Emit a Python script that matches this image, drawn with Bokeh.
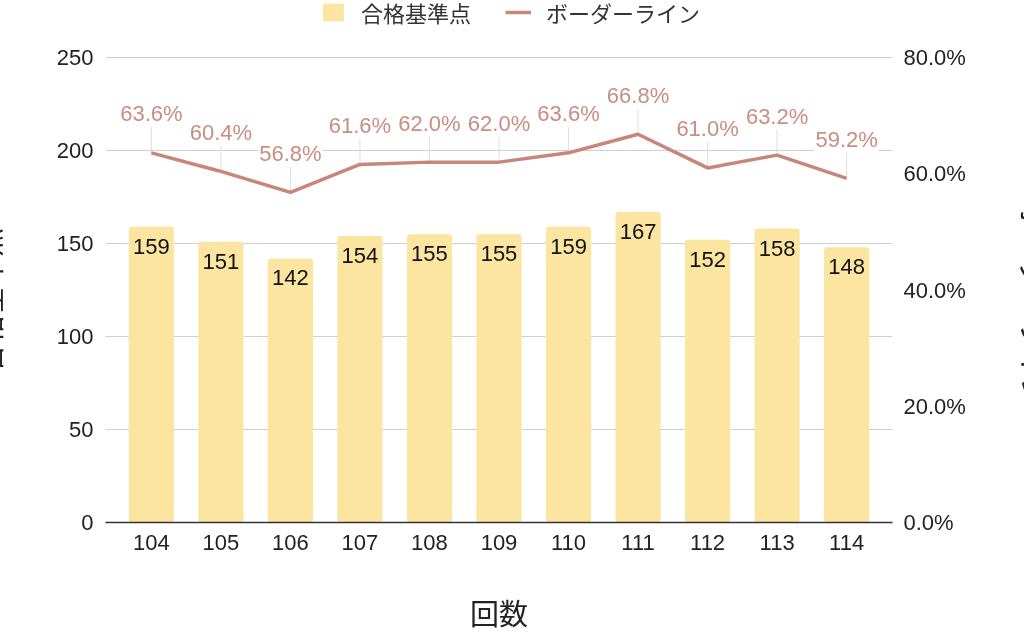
import math
from bokeh.plotting import figure
from bokeh.models import (ColumnDataSource, Range1d, LinearAxis, FixedTicker,
                          PrintfTickFormatter, Legend, LegendItem)
from bokeh.core.properties import value
from bokeh.embed import file_html
from bokeh.resources import INLINE

# ---- data ----
rounds = ["104", "105", "106", "107", "108", "109", "110", "111", "112", "113", "114"]
passing_scores = [159, 151, 142, 154, 155, 155, 159, 167, 152, 158, 148]
border_rates = [63.6, 60.4, 56.8, 61.6, 62.0, 62.0, 63.6, 66.8, 61.0, 63.2, 59.2]
left_ticks = [0, 50, 100, 150, 200, 250]
right_ticks = [0, 20, 40, 60, 80]

legend_bar = "合格基準点"
legend_line = "ボーダーライン"
x_title = "回数"
y_title = "合格基準点"
y2_title = "ボーダーライン"

# ---- styles / layout ----
BAR = "#fbe5a0"
LINE = "#c8857a"
RATE_TXT = "#c98d82"
TXT = "#222222"
NUM_FONT = value("Liberation Sans")
JP_FONT = "Noto Sans CJK JP"
SHIFT_L = 40        # canvas extends this far beyond the window on the left
SHIFT_R = 80        # ... and on the right
FRAME_H = 522       # frame from window top to x axis
TOP_PAD = 57        # empty space (legend) above the highest tick
# blank space so that the rotated titles sit lower than the frame centre
LEFT_PAD = "\u3000\u3000   "
RIGHT_PAD = "\u3000\u3000\u3000"

xs = list(range(len(rounds)))
src = ColumnDataSource(dict(
    x=xs,
    score=passing_scores,
    score_label=[str(v) for v in passing_scores],
    rate=border_rates,
    rate_top=[v + 4.6 for v in border_rates],
    rate_label=["%.1f%%" % v for v in border_rates],
))

scale = FRAME_H / (FRAME_H - TOP_PAD)
p = figure(width=1024 + SHIFT_L + SHIFT_R, height=635, output_backend="svg",
           toolbar_location=None,
           x_range=Range1d(-0.66, len(rounds) - 1 + 0.66),
           y_range=Range1d(left_ticks[0], left_ticks[-1] * scale),
           min_border_left=105 + SHIFT_L, min_border_right=132 + SHIFT_R,
           min_border_top=0, min_border_bottom=635 - FRAME_H)
p.styles = {"position": "fixed", "left": "-%dpx" % SHIFT_L, "top": "0px"}
p.outline_line_color = None
p.background_fill_color = "white"
p.border_fill_color = "white"
p.extra_y_ranges = {"rate": Range1d(right_ticks[0], right_ticks[-1] * scale)}

# grid
p.xgrid.grid_line_color = None
p.ygrid.grid_line_color = "#cfcfcf"
p.ygrid.grid_line_width = 1
p.ygrid.ticker = FixedTicker(ticks=left_ticks)

def style_axis(ax, standoff):
    ax.axis_line_color = None
    ax.major_tick_line_color = None
    ax.minor_tick_line_color = None
    ax.major_tick_out = 0
    ax.major_tick_in = 0
    ax.major_label_standoff = standoff
    ax.major_label_text_font = "Liberation Sans"
    ax.major_label_text_font_size = "22px"
    ax.major_label_text_color = TXT
    ax.axis_label_text_font = JP_FONT
    ax.axis_label_text_font_size = "29px"
    ax.axis_label_text_font_style = "normal"
    ax.axis_label_text_color = TXT

# left axis
ya = p.yaxis[0]
ya.ticker = FixedTicker(ticks=left_ticks)
style_axis(ya, 12)
ya.axis_label = y_title + LEFT_PAD
ya.axis_label_standoff = 45

# bottom axis
xa = p.xaxis[0]
xa.ticker = FixedTicker(ticks=xs)
xa.major_label_overrides = {i: r for i, r in zip(xs, rounds)}
style_axis(xa, 12)
xa.axis_line_color = "#333333"
xa.axis_line_width = 1.5
xa.axis_label = x_title
xa.axis_label_standoff = 38

# right axis
ra = LinearAxis(y_range_name="rate", ticker=FixedTicker(ticks=right_ticks),
                formatter=PrintfTickFormatter(format="%.1f%%"))
style_axis(ra, 11)
ra.axis_label = RIGHT_PAD + y2_title
ra.axis_label_standoff = 45
p.add_layout(ra, "right")

# bars
bars = p.vbar(x="x", top="score", width=0.65, source=src, fill_color=BAR,
              line_color=None, border_radius=3)
p.text(x="x", y="score", text="score_label", source=src, text_align="center",
       text_baseline="top", y_offset=12, text_font=NUM_FONT, text_font_size="22px",
       text_color="#111111")

# leader lines
p.segment(x0="x", y0="rate", x1="x", y1="rate_top", source=src, y_range_name="rate",
          line_color="#dedede", line_width=1)

# line
line = p.line(x="x", y="rate", source=src, y_range_name="rate", line_color=LINE,
              line_width=3.5, line_join="round")
p.text(x="x", y="rate", text="rate_label", source=src, y_range_name="rate",
       text_align="center", text_baseline="middle", y_offset=-39,
       text_font=NUM_FONT, text_font_size="22px", text_color=RATE_TXT,
       background_fill_color="white", padding=1)

# legend (inside the frame's empty top band)
legend = Legend(items=[LegendItem(label=legend_bar, renderers=[bars]),
                       LegendItem(label=legend_line, renderers=[line])],
                orientation="horizontal", location=(215, 494),
                glyph_width=26, glyph_height=22, label_standoff=15, spacing=34,
                padding=4, margin=0, border_line_color=None, background_fill_alpha=0,
                label_text_font=JP_FONT, label_text_font_size="22px",
                label_text_color="#333333")
p.add_layout(legend, "center")

open("out.html", "w").write(file_html(p, INLINE))
